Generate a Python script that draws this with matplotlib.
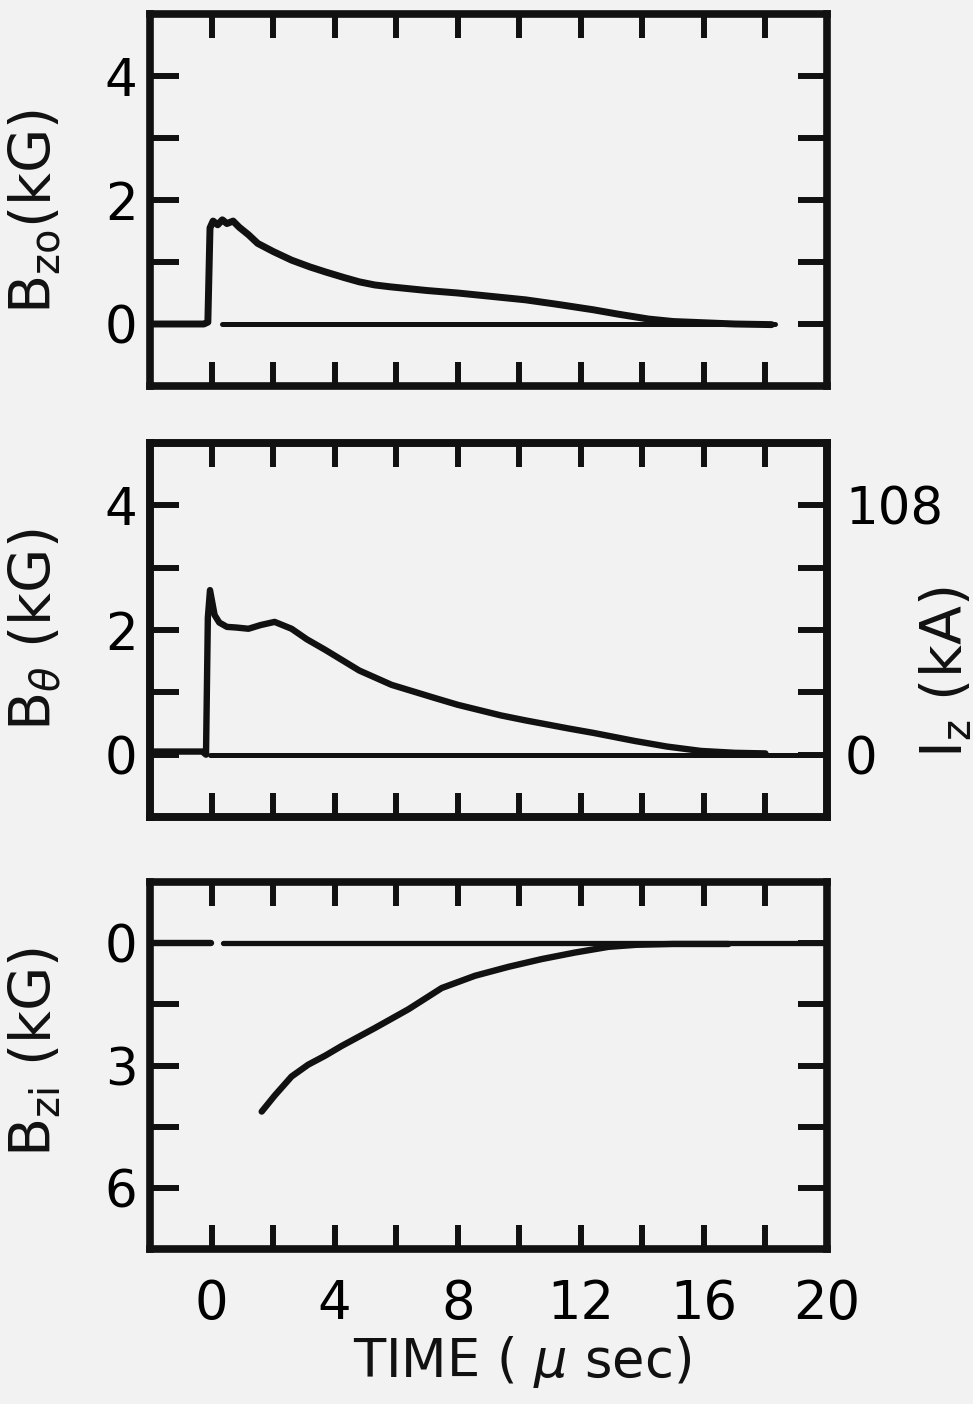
import matplotlib
matplotlib.use("Agg")
import matplotlib.pyplot as plt

plt.rcParams['font.family'] = ['DejaVu Sans']
plt.rcParams['mathtext.fontset'] = 'dejavusans'
plt.rcParams['mathtext.default'] = 'regular'

# ── traces (time in usec) ──
# B_zo (kG), outer axial field
bzo_t = [-2.0, -0.25, -0.12, -0.05, 0.05, 0.2, 0.35, 0.5, 0.7, 0.9, 1.2, 1.5,
         2.0, 2.6, 3.2, 3.7, 4.3, 4.8, 5.3, 5.8, 7.0, 8.0, 9.0, 10.2, 11.2,
         12.4, 13.2, 14.2, 15.0, 16.0, 17.0, 18.2]
bzo_v = [0.0, 0.0, 0.03, 1.55, 1.66, 1.60, 1.68, 1.62, 1.66, 1.56, 1.44, 1.30,
         1.17, 1.03, 0.92, 0.84, 0.75, 0.68, 0.63, 0.60, 0.54, 0.50, 0.45, 0.39,
         0.32, 0.23, 0.16, 0.08, 0.04, 0.02, 0.0, -0.01]
bzo_zero_t = [0.35, 18.3]

# B_theta (kG) / I_z (kA)
bth_t = [-2.0, -0.3, -0.18, -0.12, -0.05, 0.1, 0.25, 0.5, 0.8, 1.2, 1.6, 2.05,
         2.6, 3.1, 3.7, 4.3, 4.8, 5.85, 7.25, 8.0, 9.4, 10.2, 11.6, 12.4, 13.75,
         14.8, 15.9, 17.0, 18.0]
bth_v = [0.05, 0.05, 0.0, 2.2, 2.64, 2.24, 2.12, 2.05, 2.04, 2.02, 2.08, 2.13,
         2.02, 1.85, 1.68, 1.50, 1.35, 1.12, 0.91, 0.80, 0.63, 0.55, 0.42, 0.35,
         0.22, 0.13, 0.06, 0.03, 0.02]
bth_zero_t = [-0.05, 20.0]

# B_zi (kG), inner axial field (drawn downward)
bzi_t = [1.63, 2.06, 2.6, 3.14, 3.69, 4.23, 5.31, 6.40, 7.48, 8.56, 9.65,
         10.73, 11.81, 12.9, 13.8, 15.0, 16.8]
bzi_v = [4.13, 3.73, 3.27, 2.98, 2.76, 2.52, 2.08, 1.62, 1.10, 0.80, 0.58,
         0.39, 0.23, 0.09, 0.04, 0.02, 0.02]
bzi_zero_a = [-2.0, -0.02]
bzi_zero_b = [0.38, 20.0]

# ticks
time_ticks = [0, 2, 4, 6, 8, 10, 12, 14, 16, 18, 20]
time_labels = ['0', '', '4', '', '8', '', '12', '', '16', '', '20']
b_ticks = [0, 1, 2, 3, 4]
b_labels = ['0', '', '2', '', '4']
bzi_ticks = [0, 1.5, 3, 4.5, 6]
bzi_labels = ['0', '', '3', '', '6']
iz_ticks = [0, 27, 54, 81, 108]
iz_labels = ['0', '', '', '', '108']

INK = '#111111'
BG = '#f2f2f2'
W, H = 973, 1404


def frame(ax):
    for s in ax.spines.values():
        s.set_linewidth(5.5)
        s.set_color(INK)
    ax.set_xlim(-2, 20)
    ax.set_xticks(time_ticks)
    ax.set_facecolor(BG)
    ax.tick_params(axis='x', direction='in', top=True, bottom=True,
                   length=17, width=4.3, color=INK, labelbottom=False,
                   labelsize=38, pad=21)
    ax.tick_params(axis='y', direction='in', left=True, right=True,
                   length=21, width=4.3, color=INK, labelsize=37, pad=9)


def box(top, bottom, left=150, right=827):
    return [left / W, 1 - bottom / H, (right - left) / W, (bottom - top) / H]


fig = plt.figure(figsize=(W / 100, H / 100), dpi=100, facecolor=BG)

# ── panel 1: B_zo ──
ax1 = fig.add_axes(box(14, 386))
frame(ax1)
ax1.set_ylim(-1, 5)
ax1.set_yticks(b_ticks)
ax1.set_yticklabels(b_labels)
ax1.plot(bzo_zero_t, [0, 0], color=INK, lw=3.6, solid_capstyle='round')
ax1.plot(bzo_t, bzo_v, color=INK, lw=5, solid_joinstyle='round',
         solid_capstyle='round')
fig.text(35 / W, 1 - 211 / H, r'B$_{\mathrm{zo}}$(kG)', rotation=90,
         ha='center', va='center', fontsize=41, color=INK)

# ── panel 2: B_theta + I_z ──
ax2 = fig.add_axes(box(443, 817))
frame(ax2)
ax2.tick_params(axis='y', right=False)
ax2.set_ylim(-1, 5)
ax2.set_yticks(b_ticks)
ax2.set_yticklabels(b_labels)
ax2.plot(bth_zero_t, [0, 0], color=INK, lw=3.6, solid_capstyle='round')
ax2.plot(bth_t, bth_v, color=INK, lw=4.6, solid_joinstyle='round',
         solid_capstyle='round')
fig.text(35 / W, 1 - 630 / H, r'B$_{\mathit{\theta}}$ (kG)', rotation=90,
         ha='center', va='center', fontsize=41, color=INK)

ax2r = ax2.twinx()
ax2r.set_ylim(-27, 135)
ax2r.set_yticks(iz_ticks)
ax2r.set_yticklabels(iz_labels)
for s in ax2r.spines.values():
    s.set_linewidth(5.5)
    s.set_color(INK)
ax2r.tick_params(axis='y', direction='in', length=21, width=4.3, color=INK,
                 labelsize=37, pad=13)
fig.text(946 / W, 1 - 672 / H, r'I$_{\mathrm{z}}$ (kA)', rotation=90,
         ha='center', va='center', fontsize=41, color=INK)

# ── panel 3: B_zi ──
ax3 = fig.add_axes(box(882, 1249))
frame(ax3)
ax3.tick_params(axis='x', labelbottom=True)
ax3.set_xticklabels(time_labels)
ax3.set_ylim(7.5, -1.5)
ax3.set_yticks(bzi_ticks)
ax3.set_yticklabels(bzi_labels)
ax3.plot(bzi_zero_a, [0, 0], color=INK, lw=4.6, solid_capstyle='round')
ax3.plot(bzi_zero_b, [0, 0], color=INK, lw=3.8, solid_capstyle='round')
ax3.plot(bzi_t, bzi_v, color=INK, lw=4.6, solid_joinstyle='round',
         solid_capstyle='round')
fig.text(35 / W, 1 - 1052 / H, r'B$_{\mathrm{zi}}$ (kG)', rotation=90,
         ha='center', va='center', fontsize=41, color=INK)

fig.text(522 / W, 1 - 1362 / H, r'TIME ( $\mathit{\mu}$ sec)', ha='center',
         va='center', fontsize=38, color=INK)

fig.savefig('out.png', dpi=100, facecolor=BG)
